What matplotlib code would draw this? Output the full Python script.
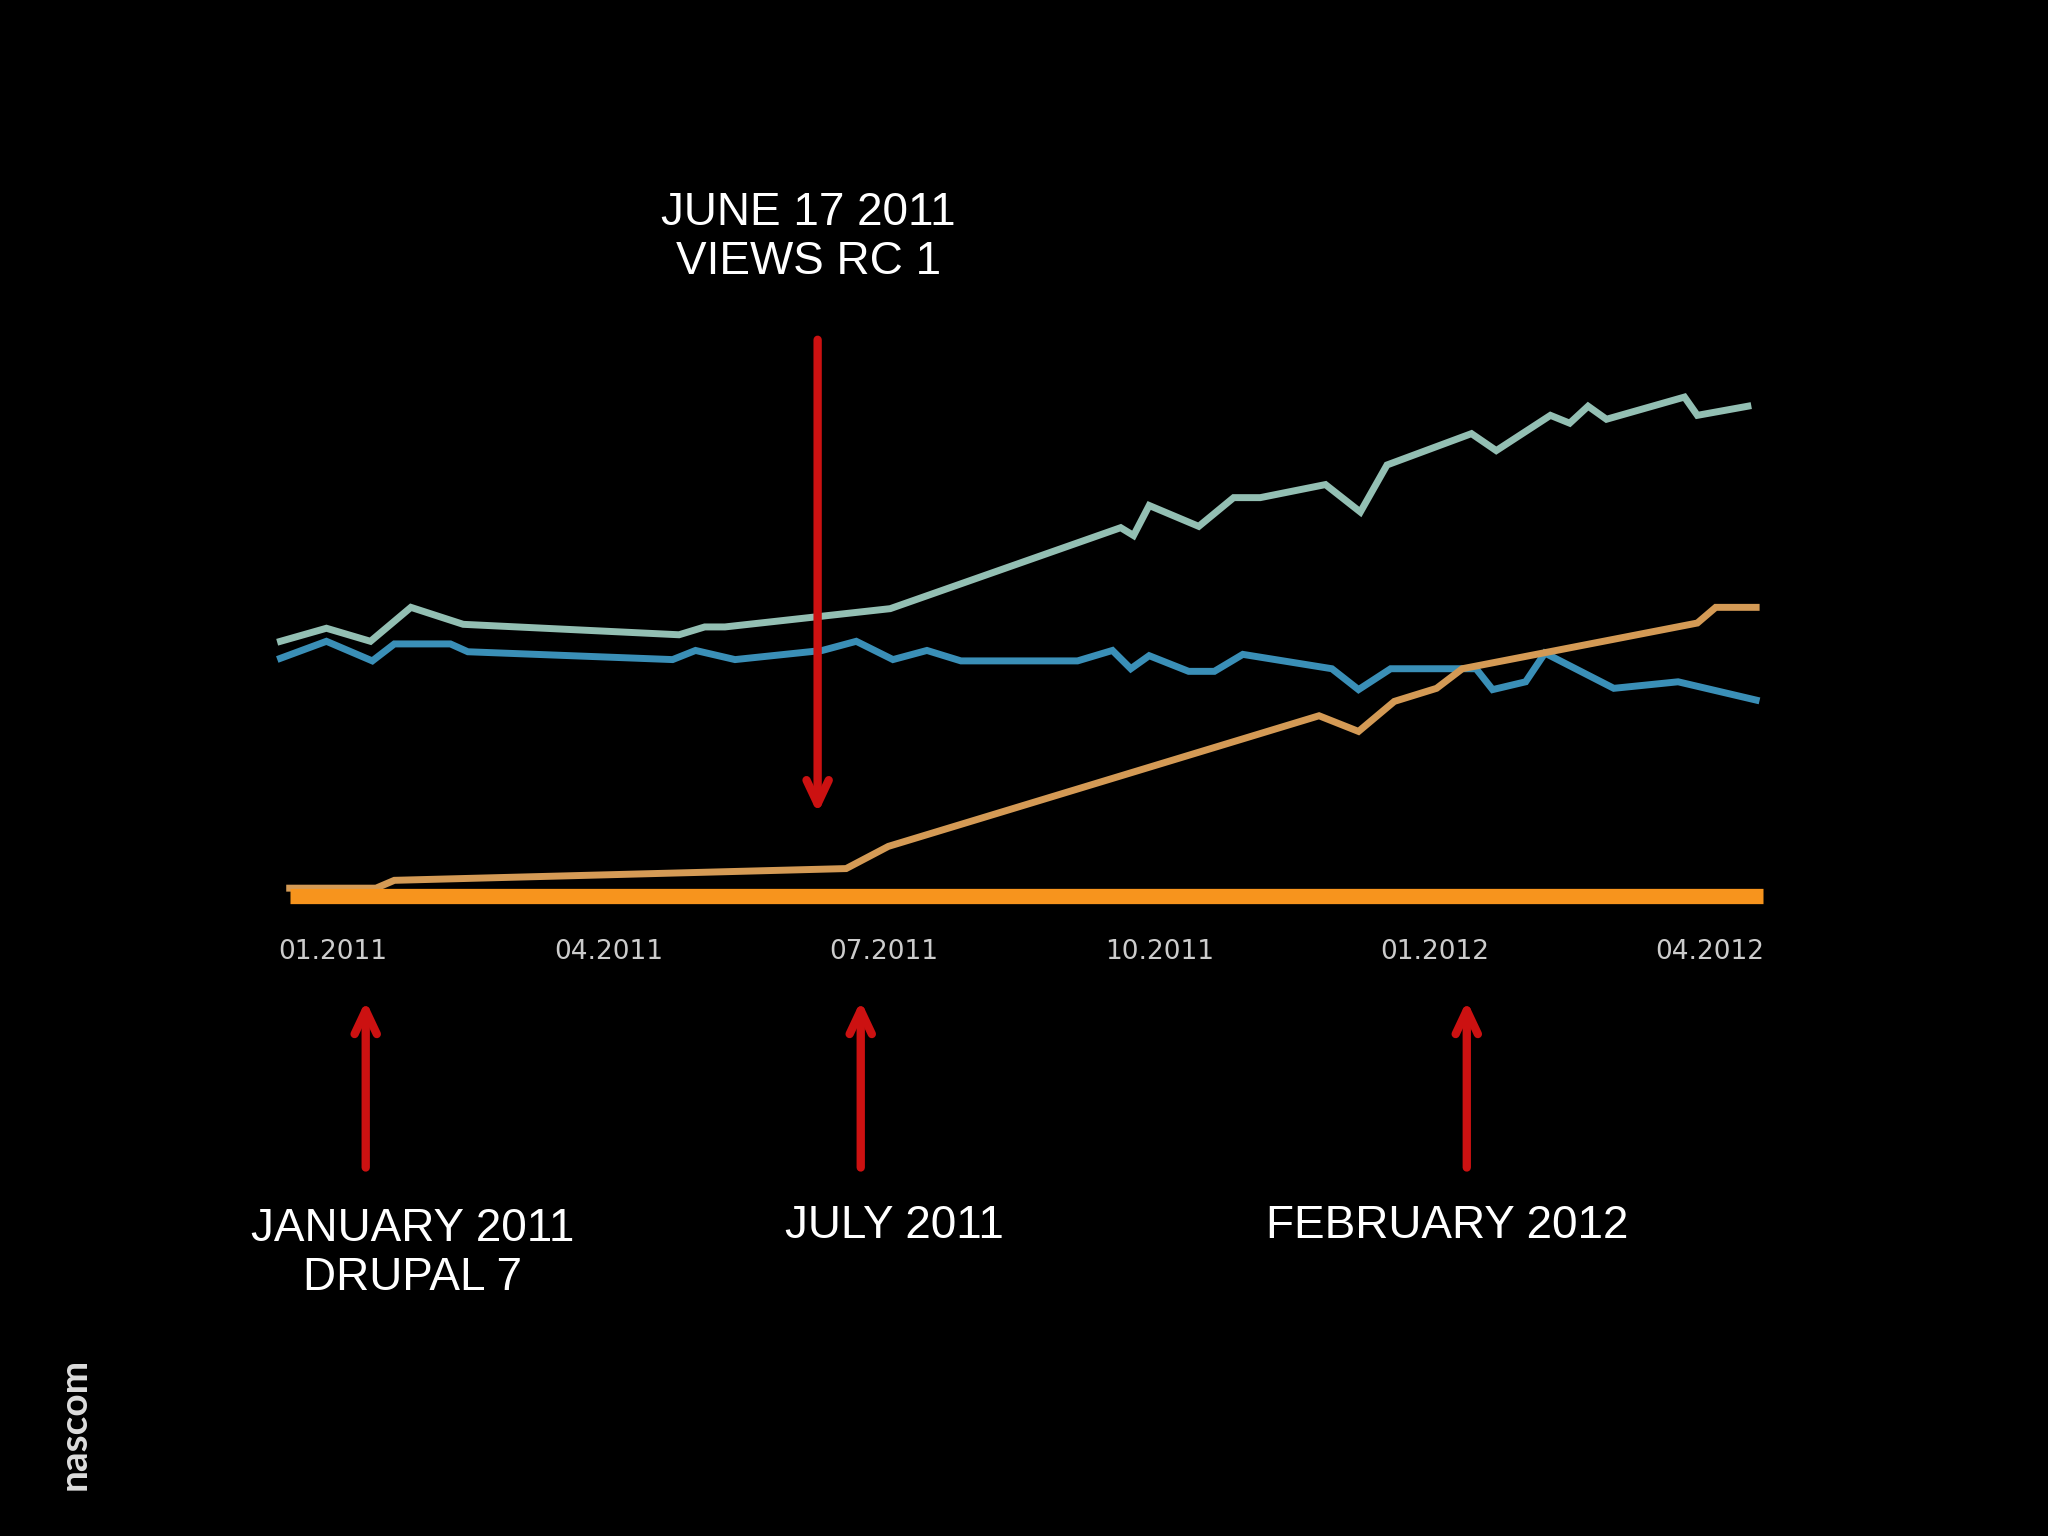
import matplotlib
matplotlib.use("Agg")
import matplotlib.pyplot as plt

# x = months since Jan 2011, y = arbitrary index
teal_x = [-0.57, -0.07, 0.41, 0.85, 1.42, 3.77, 4.05, 4.27, 6.07, 8.58, 8.72, 8.89, 9.43, 9.81, 10.10,
          10.81, 11.19, 11.48, 12.40, 12.67, 13.26, 13.47, 13.67, 13.87, 14.72, 14.86, 15.41]
teal_y = [195, 205, 195, 221, 208, 200, 206, 206, 220, 282, 276, 299, 283, 305, 305,
          315, 294, 330, 354, 341, 368, 362, 375, 365, 382, 368, 375]
blue_x = [-0.57, -0.07, 0.43, 0.67, 1.28, 1.47, 3.70, 3.95, 4.38, 5.33, 5.70, 6.10, 6.47, 6.84, 8.11,
          8.49, 8.69, 8.89, 9.32, 9.60, 9.91, 10.88, 11.17, 11.52, 12.45, 12.63, 12.99, 13.20, 13.95, 14.65, 15.50]
blue_y = [182, 195, 180, 193, 193, 187, 181, 188, 181, 188, 195, 181, 188, 180, 180,
          188, 174, 184, 172, 172, 185, 174, 158, 174, 174, 158, 164, 186, 159, 164, 150]
orange_x = [-0.47, 0.47, 0.67, 5.59, 6.05, 10.74, 11.17, 11.56, 12.02, 12.30, 14.86, 15.06, 15.50]
orange_y = [6, 6, 12, 21, 38, 138, 126, 149, 159, 174, 209, 221, 221]
tick_pos = [0, 3, 6, 9, 12, 15]
tick_labels = ['01.2011', '04.2011', '07.2011', '10.2011', '01.2012', '04.2012']

W, H = 1568, 1176   # layout reference grid
S = 2048 / W
fig = plt.figure(figsize=(20.48, 15.36), dpi=100, facecolor='black')
ax = fig.add_axes([200 / W, 1 - 700 / H, 1160 / W, 450 / H])
ax.set_facecolor('black')
ax.set_xlim(-0.78, 15.72)
ax.set_ylim(-14, 436)

ax.plot(teal_x, teal_y, color='#93bfb3', lw=5, solid_joinstyle='miter')
ax.plot(blue_x, blue_y, color='#3a8fb7', lw=5, solid_joinstyle='miter')
ax.plot(orange_x, orange_y, color='#d49a55', lw=5, solid_joinstyle='miter')
ax.plot([-0.47, 15.57], [0, 0], color='#f7941d', lw=11, solid_capstyle='butt')

for s in ax.spines.values():
    s.set_visible(False)
ax.set_yticks([])
ax.set_xticks(tick_pos)
ax.set_xticklabels(tick_labels, color='#cccccc', fontsize=19)
ax.tick_params(axis='x', length=0, pad=18)

def fp(x, y):
    return (x * S, (H - y) * S)

red = '#cc1111'
arrow = dict(arrowstyle='->,head_length=1.7,head_width=0.8', color=red, lw=6)
ax.annotate('', xy=fp(626, 625), xytext=fp(626, 258), xycoords='figure pixels',
            textcoords='figure pixels', arrowprops=arrow)
for xp in [280, 659, 1123]:
    ax.annotate('', xy=fp(xp, 764), xytext=fp(xp, 896), xycoords='figure pixels',
                textcoords='figure pixels', arrowprops=arrow)

tkw = dict(color='white', fontsize=33, ha='center', va='center', family='Liberation Sans',
           linespacing=1.15)
fig.text(619 / W, 1 - 182 / H, 'JUNE 17 2011\nVIEWS RC 1', **tkw)
fig.text(316 / W, 1 - 960 / H, 'JANUARY 2011\nDRUPAL 7', **tkw)
fig.text(685 / W, 1 - 939 / H, 'JULY 2011', **tkw)
fig.text(1108 / W, 1 - 939 / H, 'FEBRUARY 2012', **tkw)
fig.text(57 / W, 1 - 1090 / H, 'nascom', color='#dddddd', fontsize=28, rotation=90,
         ha='center', va='center', family='Lato', fontweight='bold')

fig.savefig('out.png', dpi=100, facecolor='black')
